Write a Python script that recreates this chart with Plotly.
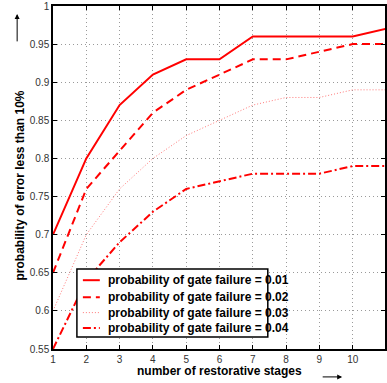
import plotly.graph_objects as go

stages = [1, 2, 3, 4, 5, 6, 7, 8, 9, 10, 11]
p_fail_001 = [0.70, 0.80, 0.87, 0.91, 0.93, 0.93, 0.96, 0.96, 0.96, 0.96, 0.97]
p_fail_002 = [0.65, 0.76, 0.81, 0.86, 0.89, 0.91, 0.93, 0.93, 0.94, 0.95, 0.95]
p_fail_003 = [0.60, 0.70, 0.76, 0.80, 0.83, 0.85, 0.87, 0.88, 0.88, 0.89, 0.89]
p_fail_004 = [0.55, 0.64, 0.69, 0.73, 0.76, 0.77, 0.78, 0.78, 0.78, 0.79, 0.79]
series_names = [
    "probability of gate failure = 0.01",
    "probability of gate failure = 0.02",
    "probability of gate failure = 0.03",
    "probability of gate failure = 0.04",
]
y_ticks = [0.55, 0.6, 0.65, 0.7, 0.75, 0.8, 0.85, 0.9, 0.95, 1]
y_tick_text = ["0.55", "0.6", "0.65", "0.7", "0.75", "0.8", "0.85", "0.9", "0.95", "1"]

RED = "#ff0000"
styles = [
    dict(color=RED, width=2, dash="solid"),
    dict(color=RED, width=2, dash="8px,5px"),
    dict(color="#ff7a7a", width=1, dash="1px,2px"),
    dict(color=RED, width=2, dash="8px,3px,2px,3px"),
]
NARROW = "Liberation Sans Narrow, Liberation Sans, Arial, sans-serif"
BOLD = "Liberation Sans, Arial, sans-serif"

fig = go.Figure()
for ys, name, st in zip([p_fail_001, p_fail_002, p_fail_003, p_fail_004], series_names, styles):
    fig.add_trace(go.Scatter(x=stages, y=ys, mode="lines", name=name, line=st,
                             showlegend=False, cliponaxis=True))

grid = dict(showgrid=True, gridcolor="#9a9a9a", gridwidth=1, griddash="1px,3px")
axis_common = dict(showline=True, linecolor="black", linewidth=1.5, mirror="allticks",
                   ticks="inside", ticklen=4, tickcolor="black", zeroline=False,
                   ticklabeloverflow="allow",
                   tickfont=dict(family=NARROW, size=10, color="#333333"), **grid)

# the right end of the axis runs just past the figure edge
fig.update_xaxes(range=[1, 10.97], tickvals=stages, **axis_common)
fig.update_yaxes(range=[0.55, 1], tickvals=y_ticks, ticktext=y_tick_text, **axis_common)

# legend box drawn in paper space
lx0, lx1, ly0, ly1 = 0.072, 0.647, 0.035, 0.233
shapes = [dict(type="rect", xref="paper", yref="paper", x0=lx0, x1=lx1, y0=ly0, y1=ly1,
               fillcolor="white", line=dict(color="black", width=1.5), layer="above")]
annotations = []
row_y = [0.2006, 0.1512, 0.1061, 0.0610]
for ry, name, st in zip(row_y, series_names, styles):
    shapes.append(dict(type="line", xref="paper", yref="paper", x0=0.090, x1=0.141,
                       y0=ry, y1=ry, line=st, layer="above"))
    annotations.append(dict(xref="paper", yref="paper", x=0.159, y=ry, text=name,
                            showarrow=False, xanchor="left", yanchor="middle",
                            font=dict(family=NARROW, size=12, color="black", weight="bold")))

# axis titles and direction arrows
annotations += [
    dict(xref="paper", yref="paper", x=-0.099, y=0.477, text="probability of error less than 10%",
         textangle=-90, showarrow=False, xanchor="center", yanchor="middle",
         font=dict(family=BOLD, size=12, color="black", weight="bold")),
    dict(xref="paper", yref="paper", x=0.5, y=-0.064, text="number of restorative stages",
         showarrow=False, xanchor="center", yanchor="middle",
         font=dict(family=BOLD, size=12, color="black", weight="bold")),
    dict(xref="paper", yref="paper", x=-0.108, y=0.977, ax=0, ay=29, text="",
         showarrow=True, arrowhead=2, arrowsize=1, arrowwidth=1, arrowcolor="black"),
    dict(xref="paper", yref="paper", x=0.871, y=-0.0814, ax=-21, ay=0, text="",
         showarrow=True, arrowhead=2, arrowsize=1, arrowwidth=1, arrowcolor="black"),
]

fig.update_layout(width=387, height=383, margin=dict(l=53, r=0, t=5, b=34),
                  paper_bgcolor="white", plot_bgcolor="white",
                  shapes=shapes, annotations=annotations, showlegend=False)
fig.write_html("out.html")
